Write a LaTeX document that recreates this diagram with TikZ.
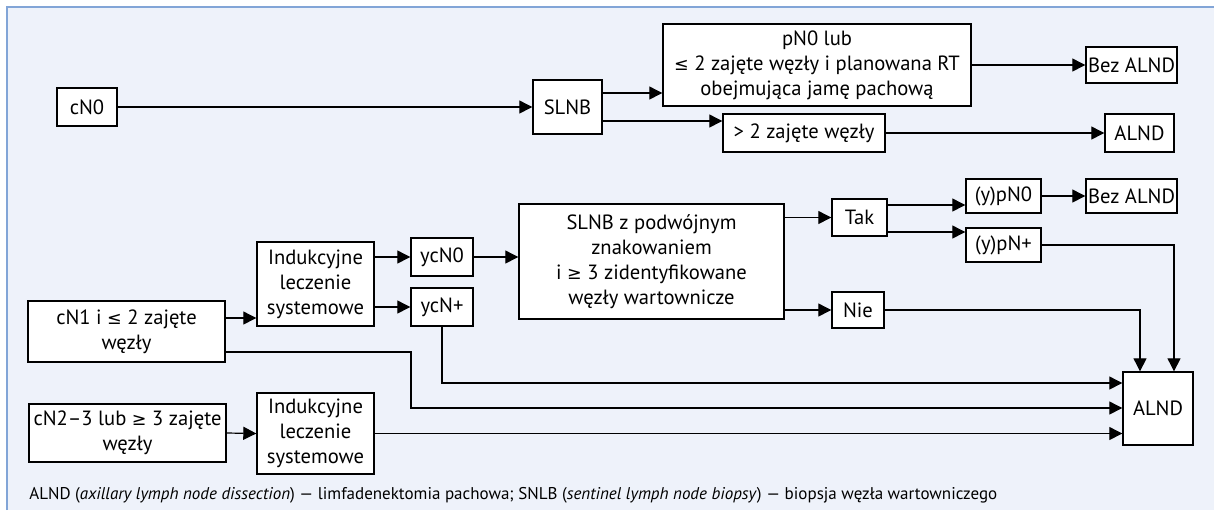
\documentclass[tikz,border=0pt]{standalone}
\usepackage{fontspec}
\setmainfont{PT Sans}
\newfontfamily\symf{DejaVu Sans}[Scale=0.85]
\newcommand{\mle}{{\symf ≤}}
\newcommand{\mge}{{\symf ≥}}
\usetikzlibrary{arrows.meta}
\definecolor{bgc}{RGB}{238,242,250}
\definecolor{brc}{RGB}{130,165,215}
\tikzset{
  box/.style={draw=black, fill=white, line width=0.7pt, align=center, inner sep=0pt,
    font=\fontsize{10.3}{12.5}\selectfont},
  conn/.style={draw=black, line width=0.6pt, -{Triangle[length=6.5pt,width=6.5pt]}},
  plain/.style={draw=black, line width=0.6pt}
}
\begin{document}
\begin{tikzpicture}[x=0.5pt,y=-0.5pt]
\useasboundingbox (0,0) rectangle (1214,510);
\fill[bgc] (7,7) rectangle (1214,510);
\draw[brc, line width=0.8pt] (7,510) -- (7,7) -- (1214,7);

% level coordinates
\coordinate (l93) at (0,93);
\coordinate (l121) at (0,121);
\coordinate (l205) at (0,205);
\coordinate (l232) at (0,232);
\coordinate (l318) at (0,318);
\coordinate (l352) at (0,352);
\coordinate (l383) at (0,383);
\coordinate (l408) at (0,408);
\coordinate (c411) at (411,0);
\coordinate (c1140) at (1140,0);
\coordinate (c1174) at (1174,0);

% nodes
\node[box, minimum width=30pt, minimum height=19pt] (cN0) at (87,107) {cN0};
\node[box, minimum width=34.5pt, minimum height=27pt] (slnb1) at (567.5,107) {SLNB};
\node[box, minimum width=154pt, minimum height=41pt] (pN0) at (817,65) {pN0 lub\\ \mle{} 2 zajęte węzły i planowana RT\\ obejmująca jamę pachową};
\node[box, minimum width=45.5pt, minimum height=18pt] (bez1) at (1131.5,65) {Bez ALND};
\node[box, minimum width=81pt, minimum height=19pt] (gt2) at (804,133) {> 2 zajęte węzły};
\node[box, minimum width=34.5pt, minimum height=19pt] (alnd1) at (1139.5,133) {ALND};

\node[box, minimum width=58.5pt, minimum height=42pt] (ind1) at (315.5,284) {Indukcyjne\\ leczenie\\ systemowe};
\node[box, minimum width=31pt, minimum height=19pt] (ycN0) at (442,257) {ycN0};
\node[box, minimum width=31pt, minimum height=19pt] (ycNp) at (442,307) {ycN+};
\node[box, minimum width=98.5pt, minimum height=30.5pt] (cN1) at (126.5,331.5) {cN1 i \mle{} 2 zajęte\\ węzły};
\node[box, minimum width=132.5pt, minimum height=57.5pt] (slnb2) at (651.5,261.5) {SLNB z podwójnym\\ znakowaniem\\ i \mge{} 3 zidentyfikowane\\ węzły wartownicze};
\node[box, minimum width=27.5pt, minimum height=18.5pt] (tak) at (859.5,217.5) {Tak};
\node[box, minimum width=26pt, minimum height=18pt] (nie) at (858,310) {Nie};
\node[box, minimum width=37.5pt, minimum height=17pt] (ypn0) at (1003.5,196) {(y)pN0};
\node[box, minimum width=45.5pt, minimum height=17pt] (bez2) at (1131.5,196) {Bez ALND};
\node[box, minimum width=37.5pt, minimum height=17pt] (ypnp) at (1003.5,245) {(y)pN+};
\node[box, minimum width=35pt, minimum height=36.5pt] (alnd2) at (1158,408.5) {ALND};
\node[box, minimum width=98.5pt, minimum height=29pt] (cN2) at (127.5,433) {cN2–3 lub \mge{} 3 zajęte\\ węzły};
\node[box, minimum width=58.5pt, minimum height=40.5pt] (ind2) at (315.5,433.5) {Indukcyjne\\ leczenie\\ systemowe};

\node[anchor=west, inner sep=0pt, font=\fontsize{8.5}{10}\selectfont] (foot) at (29,495)
  {ALND (\textit{axillary lymph node dissection}) — limfadenektomia pachowa; SNLB (\textit{sentinel lymph node biopsy}) — biopsja węzła wartowniczego};

% connectors
\draw[conn] (cN0.east) -- (slnb1.west);
\draw[conn] (slnb1.east |- l93) -- (pN0.west |- l93);
\draw[conn] (slnb1.east |- l121) -- (gt2.west |- l121);
\draw[conn] (pN0.east) -- (bez1.west);
\draw[conn] (gt2.east) -- (alnd1.west);

\draw[conn] (cN1.east |- l318) -- (ind1.west |- l318);
\draw[conn] (ind1.east |- ycN0.west) -- (ycN0.west);
\draw[conn] (ind1.east |- ycNp.west) -- (ycNp.west);
\draw[conn] (ycN0.east) -- (slnb2.west |- ycN0.east);
\draw[conn] (slnb2.east |- tak.west) -- (tak.west);
\draw[conn] (slnb2.east |- nie.west) -- (nie.west);
\draw[conn] (tak.east |- l205) -- (ypn0.west |- l205);
\draw[conn] (tak.east |- l232) -- (ypnp.west |- l232);
\draw[conn] (ypn0.east) -- (bez2.west);
\draw[conn] (ypnp.east) -| (c1174 |- alnd2.north);
\draw[conn] (nie.east) -| (c1140 |- alnd2.north);
\draw[conn] (ycNp.south) |- (alnd2.west |- l383);
\draw[conn] (cN1.east |- l352) -| (c411 |- l408) -- (alnd2.west |- l408);
\draw[conn] (cN2.east) -- (ind2.west);
\draw[conn] (ind2.east) -- (alnd2.west |- ind2.east);
\end{tikzpicture}
\end{document}
